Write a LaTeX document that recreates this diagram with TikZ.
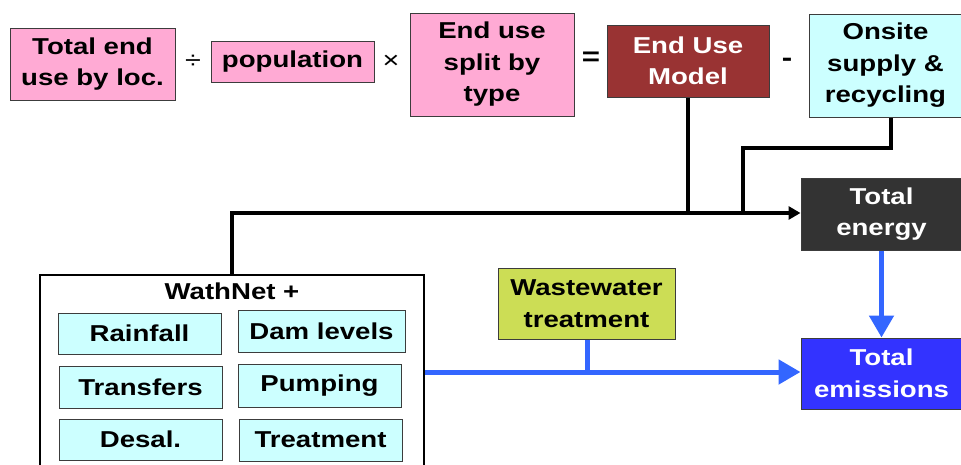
\documentclass[tikz,border=0pt]{standalone}
\usepackage{fontspec}
\setmainfont[FakeStretch=1.2]{Liberation Sans}
\usetikzlibrary{arrows.meta}
\definecolor{pinkbox}{RGB}{255,170,212}
\definecolor{cyanbox}{RGB}{204,255,255}
\definecolor{redbox}{RGB}{153,51,51}
\definecolor{darkbox}{RGB}{51,51,51}
\definecolor{greenbox}{RGB}{204,221,85}
\definecolor{emisbox}{RGB}{51,51,255}
\definecolor{bluearrow}{RGB}{51,102,255}
\definecolor{edge}{RGB}{60,60,60}
\begin{document}
\begin{tikzpicture}[x=1pt,y=-1pt,
  txt/.style={font=\fontsize{23}{31.5}\selectfont\bfseries, align=center},
  bx/.style={txt, draw=edge, line width=1pt, inner sep=0pt},
  pinkb/.style={bx, fill=pinkbox},
  cyanb/.style={bx, fill=cyanbox},
  sym/.style={font=\fontsize{24}{24}\selectfont, inner sep=0pt},
  blk/.style={line width=3.2pt, black},
  blu/.style={line width=5pt, bluearrow},
]
\useasboundingbox (0,0) rectangle (961,464);
\clip (0,0) rectangle (961,464);
% top row
\node[pinkb, minimum width=165pt, minimum height=72pt] (tot) at (92.5,64) {Total end\\use by loc.};
\node[sym] (div) at (193,62) {÷};
\node[pinkb, minimum width=163pt, minimum height=41pt] (pop) at (292.5,61.5) {population};
\node[sym] (mul) at (391,62) {×};
\node[pinkb, minimum width=164pt, minimum height=103pt] (split) at (492,64.5) {End use\\split by\\type};
\node[sym, font=\fontsize{26}{26}\selectfont\bfseries] (eq) at (591,59) {=};
\node[bx, fill=redbox, text=white, minimum width=162pt, minimum height=72pt] (eum) at (688,61) {End Use\\Model};
\node[sym, font=\fontsize{26}{26}\selectfont\bfseries] (minus) at (787,62) {-};
\node[cyanb, minimum width=153pt, minimum height=103pt] (onsite) at (885.5,65.5) {Onsite\\supply \&\\recycling};
% right column
\node[bx, fill=darkbox, text=white, minimum width=161pt, minimum height=72pt] (energy) at (881.5,214) {Total\\energy};
\node[bx, fill=emisbox, text=white, minimum width=161pt, minimum height=71pt] (emis) at (881.5,373.5) {Total\\emissions};
\node[bx, fill=greenbox, minimum width=177pt, minimum height=71pt] (ww) at (586.5,303.5) {Wastewater\\treatment};
% WathNet
\node[draw=black, line width=2.5pt, minimum width=384pt, minimum height=210pt, inner sep=0pt] (wath) at (232,380) {};
\node[txt, inner sep=0pt] (wathlbl) at (232,291) {WathNet +};
\node[cyanb, minimum width=163pt, minimum height=41pt] (rain) at (139.5,333.5) {Rainfall};
\node[cyanb, minimum width=167pt, minimum height=42pt] (dam) at (321.5,331) {Dam levels};
\node[cyanb, minimum width=163pt, minimum height=42pt] (trans) at (140.5,387) {Transfers};
\node[cyanb, minimum width=163pt, minimum height=43pt] (pump) at (319.5,385.5) {Pumping};
\node[cyanb, minimum width=163pt, minimum height=41pt] (desal) at (140.5,439.5) {Desal.};
\node[cyanb, minimum width=163pt, minimum height=42pt] (treat) at (320.5,440) {Treatment};
% connectors
\coordinate (bus) at (232,213);
\coordinate (onsbend) at (891,148);
\coordinate (onsdrop) at (743,148);
\coordinate (blujoin) at (587,372);
\draw[blk, -{Triangle[length=12pt,width=13pt]}] (wath.north -| bus) -- (bus) -- (energy.west |- bus);
\draw[blk] (eum.south) -- (eum.south |- bus);
\draw[blk] (onsite.south -| onsbend) -- (onsbend) -- (onsdrop) -- (onsdrop |- bus);
\draw[blk] (ww.north -| blujoin) -- (ww.north -| blujoin |- bus);
\draw[blu, -{Triangle[length=22pt,width=24pt]}] (wath.east |- blujoin) -- (emis.west |- blujoin);
\draw[blu] (ww.south -| blujoin) -- (blujoin);
\draw[blu, -{Triangle[length=22pt,width=24pt]}] (energy.south) -- (emis.north);
\end{tikzpicture}
\end{document}
